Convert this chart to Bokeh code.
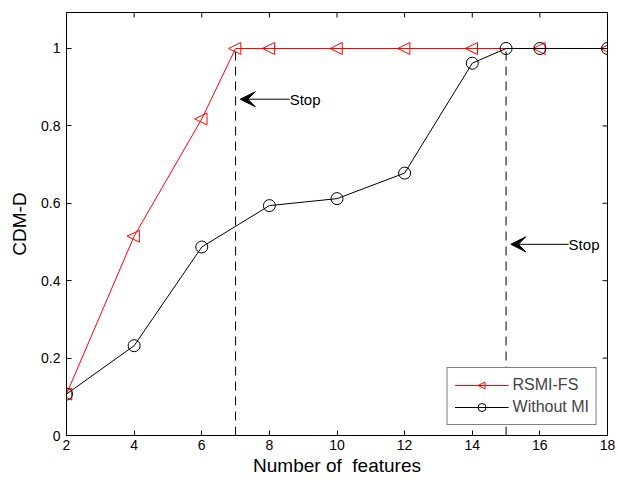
import numpy as np
from bokeh.plotting import figure
from bokeh.models import Range1d, FixedTicker, Arrow, VeeHead, Label, Legend, LegendItem, CustomJS
from bokeh.embed import file_html
from bokeh.resources import INLINE

# data
features_rsmi = [2, 4, 6, 7, 8, 10, 12, 14, 16, 18]
cdm_rsmi = [0.107, 0.515, 0.818, 1.0, 1.0, 1.0, 1.0, 1.0, 1.0, 1.0]
features_nomi = [2, 4, 6, 8, 10, 12, 14, 15, 16, 18]
cdm_nomi = [0.107, 0.232, 0.487, 0.594, 0.612, 0.678, 0.962, 1.0, 1.0, 1.0]
stop_x = [7, 15]
stop_y = [0.869, 0.494]
stop_text_x = [8.6, 16.85]
x_ticks = [2, 4, 6, 8, 10, 12, 14, 16, 18]
y_ticks = [0, 0.2, 0.4, 0.6, 0.8, 1.0]
x_min, x_max = 2, 18
y_min, y_max = 0, 1.093

FONT = "Liberation Sans"

p = figure(width=618, height=482, output_backend="svg", toolbar_location=None,
           x_range=Range1d(x_min, x_max), y_range=Range1d(y_min, y_max),
           min_border_left=66, min_border_right=11, min_border_top=12, min_border_bottom=47)
p.grid.visible = False
p.outline_line_color = "black"
p.outline_line_width = 1
p.background_fill_color = "white"
p.border_fill_color = "white"

for ax in [p.xaxis[0], p.yaxis[0]]:
    ax.major_tick_in = 5
    ax.major_tick_out = 0
    ax.minor_tick_line_color = None
    ax.axis_line_color = "black"
    ax.major_label_text_font = FONT
    ax.major_label_text_font_size = "14px"
    ax.major_label_text_color = "black"
    ax.axis_label_text_font = FONT
    ax.axis_label_text_font_size = "19px"
    ax.axis_label_text_font_style = "normal"
    ax.axis_label_text_color = "black"

p.xaxis[0].ticker = FixedTicker(ticks=x_ticks)
p.yaxis[0].ticker = FixedTicker(ticks=y_ticks)
p.yaxis[0].major_label_overrides = {0: "0", 1.0: "1"}
p.xaxis[0].axis_label = "Number of\u00a0 features"
p.yaxis[0].axis_label = "CDM-D"
p.xaxis[0].major_label_standoff = 4
p.xaxis[0].axis_label_standoff = 2
p.yaxis[0].major_label_standoff = 6
p.yaxis[0].axis_label_standoff = 8

# inward ticks on top and right edges (half of each dash is clipped by the frame)
p.scatter(x_ticks, [y_max] * len(x_ticks), marker="dash", angle=np.pi / 2, size=10,
          line_color="black", line_width=1)
p.scatter([x_max] * len(y_ticks), y_ticks, marker="dash", size=10,
          line_color="black", line_width=1)

# stop lines
for sx in stop_x:
    p.segment(x0=[sx], y0=[0], x1=[sx], y1=[1.0], line_color="black", line_width=1, line_dash="9 6")

red = "#ff0000"

left_tri_js = CustomJS(code="""
export default (args, obj, data, context) => {
  let ctx, r, visuals, i
  if (data && data.ctx) { ({ctx, i, r, visuals} = data) } else { ctx = data; }
  const a = r * 1.0
  ctx.beginPath()
  ctx.moveTo(-a, 0)
  ctx.lineTo(a * 0.75, -a * 0.85)
  ctx.lineTo(a * 0.75, a * 0.85)
  ctx.closePath()
  if (visuals && visuals.line && visuals.line.apply) {
    visuals.line.apply(ctx, i)
  } else {
    ctx.strokeStyle = "#ff0000"; ctx.lineWidth = 1; ctx.stroke()
  }
}
""")

l1 = p.line(features_rsmi, cdm_rsmi, line_color=red, line_width=1)
try:
    s1 = p.scatter(features_rsmi, cdm_rsmi, marker="@lefttri", defs={"@lefttri": left_tri_js},
                   size=14, line_color=red, fill_color=None, line_width=1)
except Exception:
    s1 = p.scatter(features_rsmi, cdm_rsmi, marker="triangle", angle=np.pi / 2, size=13,
                   line_color=red, fill_color=None, line_width=1)
l2 = p.line(features_nomi, cdm_nomi, line_color="black", line_width=1)
s2 = p.scatter(features_nomi, cdm_nomi, marker="circle", size=12,
               line_color="black", fill_color=None, line_width=1)

for sx, sy, tx in zip(stop_x, stop_y, stop_text_x):
    p.add_layout(Arrow(end=VeeHead(size=15, fill_color="black", line_color="black"),
                       x_start=tx, y_start=sy, x_end=sx + 0.14, y_end=sy,
                       line_color="black", line_width=1))
    p.add_layout(Label(x=tx, y=sy, text="Stop", text_font=FONT, text_font_size="15px",
                       text_baseline="middle", text_align="left", text_color="black"))

legend = Legend(items=[LegendItem(label="RSMI-FS", renderers=[l1, s1]),
                       LegendItem(label="Without MI", renderers=[l2, s2])],
                location="bottom_right")
legend.label_text_font = FONT
legend.label_text_font_size = "16px"
legend.border_line_color = "black"
legend.border_line_width = 1
legend.background_fill_alpha = 1
legend.glyph_width = 54
legend.spacing = 2
legend.padding = 7
legend.margin = 10
legend.label_standoff = 4
p.add_layout(legend)

open("out.html", "w").write(file_html(p, INLINE))
